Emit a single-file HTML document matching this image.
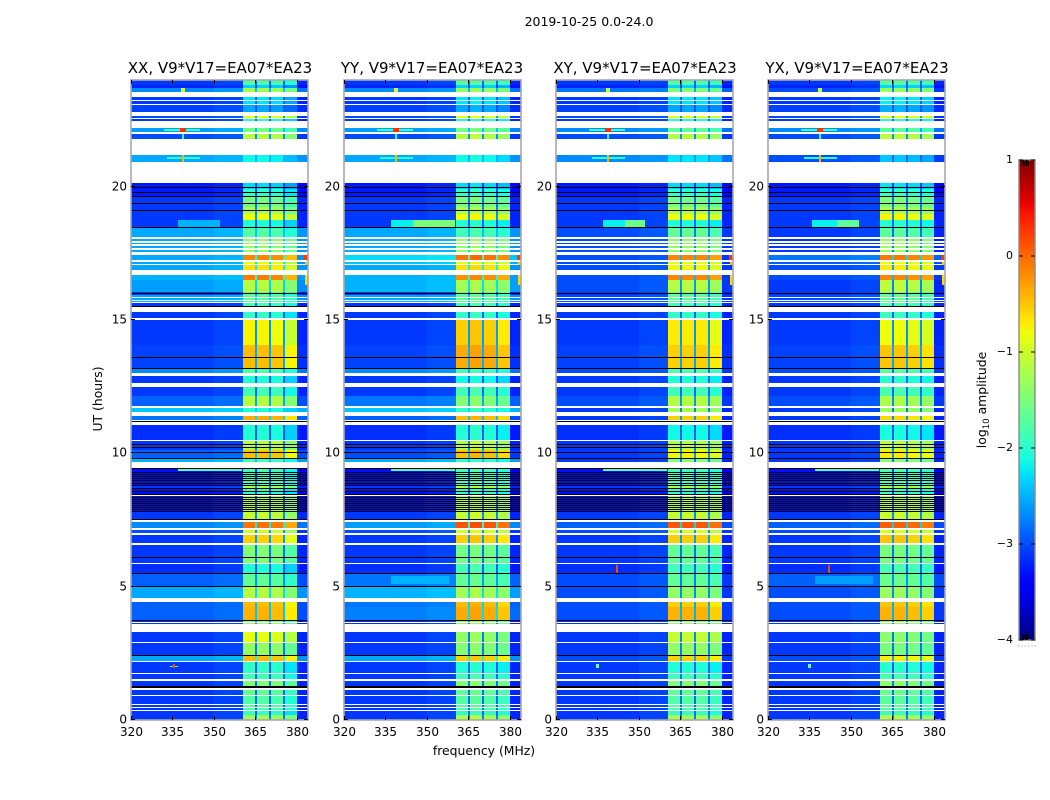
<!DOCTYPE html>
<html lang="en">
<head>
<meta charset="utf-8">
<title>2019-10-25 0.0-24.0</title>
<style>
html,body{margin:0;padding:0;background:#fff;width:1050px;height:800px;overflow:hidden}
svg{display:block}
text{font-family:"DejaVu Sans","Liberation Sans",sans-serif;fill:#000}
</style>
</head>
<body>
<svg id="figure" xmlns="http://www.w3.org/2000/svg" width="1050" height="800" viewBox="0 0 1050 800">
  <rect x="0" y="0" width="1050" height="800" fill="#fff"/>
  <text x="589" y="26" text-anchor="middle" font-size="12.5">2019-10-25 0.0-24.0</text>
  <text x="220" y="73" text-anchor="middle" font-size="15">XX, V9*V17=EA07*EA23</text>
  <text x="432" y="73" text-anchor="middle" font-size="15">YY, V9*V17=EA07*EA23</text>
  <text x="645" y="73" text-anchor="middle" font-size="15">XY, V9*V17=EA07*EA23</text>
  <text x="857" y="73" text-anchor="middle" font-size="15">YX, V9*V17=EA07*EA23</text>
  <text x="484" y="755" text-anchor="middle" font-size="12.4">frequency (MHz)</text>
  <text transform="translate(102,399) rotate(-90)" text-anchor="middle" font-size="12.4">UT (hours)</text>
  <text transform="translate(986,400) rotate(-90)" text-anchor="middle" font-size="12.4">log<tspan dy="3" font-size="8.6">10</tspan><tspan dy="-3"> amplitude</tspan></text>
  <defs>
    <linearGradient id="jetGradient" x1="0" y1="1" x2="0" y2="0"></linearGradient>
  </defs>
  <g id="panels"></g>
  <g id="colorbar"></g>
</svg>
<script>
// ---------- data: frequency bins, MHz ----------
const freqEdges = [320, 350, 360.4, 364.8, 365.5, 369.8, 370.5, 375, 375.6, 380, 384];

// ---------- data: time rows, UT hours (anything not listed stays blank) ----------
const rowTop = [
  24.00,23.81,23.70,23.36,23.21,23.06,22.65,22.54,22.20,21.98,
  21.19,20.14,19.91,19.61,19.24,18.98,18.75,18.45,18.04,17.89,
  17.78,17.63,17.44,17.18,17.06,16.69,16.50,16.05,15.94,15.83,
  15.71,15.64,15.30,15.00,14.06,13.20,12.90,12.49,12.15,11.70,
  11.40,11.06,10.46,10.13,9.83,9.45,8.81,8.70,8.40,7.80,
  7.43,7.13,6.94,6.56,5.85,5.51,5.03,4.43,4.24,3.75,
  3.64,3.30,2.89,2.44,2.18,1.73,1.46,1.13,0.90,0.56,
  0.45,0.34,0.19];
const rowBottom = [
  23.81,23.70,23.55,23.25,23.10,22.80,22.58,22.46,22.05,21.79,
  20.93,19.91,19.61,19.24,18.98,18.75,18.45,18.11,17.96,17.85,
  17.70,17.55,17.25,17.10,16.88,16.50,16.05,15.94,15.86,15.75,
  15.68,15.53,15.08,14.06,13.20,13.01,12.64,12.15,11.78,11.55,
  11.25,10.50,10.13,9.83,9.68,8.81,8.70,8.44,7.80,7.50,
  7.20,7.01,6.64,5.89,5.51,5.03,4.58,4.24,3.75,3.68,
  3.60,2.93,2.44,2.21,1.76,1.54,1.28,0.94,0.60,0.49,
  0.38,0.19,0.00];

// ---------- data: log10 amplitude, off-band level per row ----------
const xxLeft = [
  -3.1,-3.2,-2.7,-3.1,-3.1,-3.05,-3,-3.1,-2.6,-3,
  -2.55,-3.25,-3.25,-3.1,-3.1,-3.1,-3.1,-2.55,-2.55,-2.55,
  -2.55,-2.55,-2.55,-2.55,-2.55,-2.5,-2.6,-3.1,-2.55,-2.55,
  -2.55,-3.1,-3.1,-3.1,-3.05,-2.7,-3.1,-3.1,-2.9,-2.4,
  -2.8,-3.15,-3.1,-2.9,-2.5,-3.3,-3.1,-3.3,-3.3,-3.1,
  -2.7,-3,-3.1,-3.1,-3.15,-2.9,-2.55,-2.9,-2.9,-3.1,
  -3.1,-3.1,-3.1,-2.55,-3.1,-3.1,-3.1,-3.1,-3.1,-3.1,
  -3.1,-3.1,-3.1];
const yyLeft = [
  -3.1,-3.2,-2.7,-3.1,-3.1,-3.05,-3,-3.1,-2.6,-3,
  -2.55,-3.25,-3.25,-3.1,-3.1,-3.1,-3.1,-2.55,-2.55,-2.55,
  -2.55,-2.55,-2.3,-2.4,-2.55,-2.5,-2.5,-3.1,-2.55,-2.55,
  -2.55,-3.1,-3.1,-3.1,-3.05,-2.7,-3.1,-3.1,-2.8,-2.4,
  -2.9,-3.15,-3.1,-3,-2.5,-3.3,-3.1,-3.3,-3.3,-3.1,
  -2.6,-3,-3.1,-3.1,-3.15,-2.8,-2.5,-2.8,-2.75,-3.1,
  -3.1,-3.1,-3.1,-2.55,-3.1,-3.1,-3.1,-3.1,-3.1,-3.1,
  -3.1,-3.1,-3.1];
const xyLeft = [
  -3.1,-3.2,-2.8,-3.1,-3.1,-3.05,-3,-3.1,-2.7,-3,
  -2.7,-3.25,-3.25,-3.1,-3.1,-3.1,-3.1,-3,-3,-3,
  -3,-3,-3,-3,-3,-3,-3,-3.1,-3,-3,
  -3,-3.1,-3.1,-3.1,-3.05,-3,-3.1,-3.1,-3,-3.1,
  -3.1,-3.15,-3.1,-3.1,-3.1,-3.3,-3.1,-3.3,-3.3,-3.1,
  -2.9,-3,-3.1,-3.1,-3.15,-3,-3,-3,-3,-3.1,
  -3.1,-3.1,-3.1,-3,-3.1,-3.1,-3.1,-3.1,-3.1,-3.1,
  -3.1,-3.1,-3.1];
const yxLeft = [
  -3.1,-3.2,-3,-3.1,-3.1,-3.05,-3,-3.1,-2.7,-3,
  -3,-3.25,-3.25,-3.1,-3.1,-3.1,-3.1,-3.1,-3.1,-3.1,
  -3.1,-3.1,-2.8,-2.9,-3,-3,-3.1,-3.1,-3,-3,
  -3,-3.1,-3.1,-3.1,-3.05,-3,-3.1,-3.1,-3,-3.1,
  -3.1,-3.15,-3.1,-3.1,-3.1,-3.3,-3.1,-3.3,-3.3,-3.1,
  -2.9,-3,-3.1,-3.1,-3.15,-2.9,-3,-3,-3,-3.1,
  -3.1,-3.1,-3.1,-3,-3.1,-3.1,-3.1,-3.1,-3.1,-3.1,
  -3.1,-3.1,-3.1];

// ---------- data: log10 amplitude, in-band level per row ----------
const xxBand = [
  -1.8,-2.4,-1.3,-2.3,-2.3,-2.6,-0.9,-2.1,-1.6,-1.2,
  -2.2,-2.35,-2,-1.6,-1.25,-0.85,-2.1,-1.8,-1.4,-1.4,
  -1.4,-1.4,-0.2,-0.9,-0.7,-0.15,-1.2,-1.8,-1.7,-1.7,
  -1.7,-1.9,-2,-0.8,-0.5,-1.8,-2.1,-1.9,-1.2,-2.1,
  -0.4,-2.1,-1.2,-0.5,-1.9,-1.9,-1.2,-2,-1.3,-1.1,
  -0.1,-1,-0.6,-1.5,-2.1,-1.7,-1.2,-0.5,-0.45,-1.4,
  -1.4,-0.9,-1.4,-0.5,-2,-1.9,-1.5,-1.7,-1.8,-1.8,
  -1.8,-2,-1.3];
const yyBand = [
  -1.8,-2.4,-1.4,-2.3,-2.3,-2.6,-0.9,-2.1,-1.6,-1.2,
  -2.2,-2.35,-2,-1.6,-1.25,-0.85,-2.1,-1.9,-1.4,-1.4,
  -1.4,-1.4,-0.1,-0.9,-0.7,-0.25,-1.3,-1.8,-1.7,-1.7,
  -1.7,-1.9,-2,-0.6,-0.4,-1.9,-2.2,-1.9,-1.5,-2,
  -0.5,-2.1,-1.2,-0.5,-2,-1.9,-1.2,-2,-1.3,-1.1,
  0.05,-1,-0.6,-1.6,-1.9,-1.7,-1.3,-0.5,-0.4,-1.4,
  -1.4,-1.4,-1.5,-0.6,-2.1,-1.9,-1.5,-1.7,-1.8,-1.8,
  -1.8,-2,-1.3];
const xyBand = [
  -1.8,-2.4,-1.5,-2.3,-2.3,-2.6,-0.9,-2.1,-1.7,-1.2,
  -2.3,-2.35,-2,-1.6,-1.25,-0.85,-2.1,-1.7,-1.4,-1.4,
  -1.4,-1.4,-0.2,-0.9,-0.8,-0.2,-1.2,-1.8,-1.7,-1.7,
  -1.7,-1.9,-2,-0.75,-0.6,-1.8,-2.1,-1.9,-1.2,-1.3,
  -0.6,-2.2,-1.2,-0.8,-1.5,-1.9,-1.2,-2,-1.3,-1.1,
  0.05,-1,-0.6,-1.7,-1.9,-1.7,-1.4,-0.6,-0.45,-1.4,
  -1.4,-1.1,-1.4,-0.6,-2.1,-1.9,-1.5,-1.7,-1.8,-1.8,
  -1.8,-2,-1.3];
const yxBand = [
  -1.8,-2.4,-1.4,-2.3,-2.3,-2.6,-0.9,-2.1,-1.8,-1.2,
  -2.5,-2.35,-2,-1.6,-1.25,-0.85,-2.1,-1.8,-1.4,-1.4,
  -1.4,-1.4,-0.2,-0.9,-0.8,-0.25,-1.2,-1.8,-1.7,-1.7,
  -1.7,-1.9,-2,-0.9,-0.6,-1.8,-2.1,-1.9,-1.3,-1.4,
  -0.7,-2.2,-1.2,-0.8,-1.5,-1.9,-1.2,-2,-1.3,-1.1,
  -0.05,-1,-0.6,-1.6,-1.9,-1.7,-1.4,-0.6,-0.5,-1.4,
  -1.4,-1.5,-1.6,-0.8,-2.1,-1.9,-1.5,-1.7,-1.8,-1.8,
  -1.8,-2,-1.3];

// ---------- data: per-sub-band offset (four sub-bands) ----------
const xxChannelOffset = [0.05, 0.05, 0, -0.25];
const yyChannelOffset = [0.05, 0.1, 0.05, -0.1];
const xyChannelOffset = [0.05, 0.05, 0.05, -0.1];
const yxChannelOffset = [0.1, 0.1, 0.05, -0.05];

// ---------- data: localized features [hourTop, hourBottom, freqStart, freqEnd, log10Amp] ----------
const sharedFeatures = [
  [22.16,22.09,332,345,-1.9],[22.20,22.05,337.8,339.8,0.3],
  [23.70,23.55,338.2,339.4,-1],[21.98,21.79,338.3,339.3,-2],
  [21.10,21.02,333,345,-2],[21.19,20.93,338.3,339.3,-0.4],
  [9.45,9.33,337,360,-1.7],
  [17.44,17.25,382.5,384,0.25],[16.69,16.3,382.8,384,-0.6],[17.18,17.06,382.8,384,-0.5]
];
const xxFeatures = [
  [2.04,1.98,334,337,-1.9],[2.10,1.95,335.2,335.9,0.2],[18.75,18.49,337,352,-2.5]
];
const yyFeatures = [
  [18.75,18.49,337,345,-2.2],[18.75,18.49,345,360,-1.5],[5.40,5.10,337,358,-2.5]
];
const xyFeatures = [
  [18.75,18.49,337,345,-2.2],[18.75,18.49,345,352,-1.6],[5.80,5.50,341.6,342.4,0.2],[2.10,1.95,334.5,335.5,-1.6]
];
const yxFeatures = [
  [18.75,18.49,336,345,-2.2],[18.75,18.49,345,353,-1.7],[5.40,5.10,337,358,-2.6],[5.80,5.50,341.6,342.4,0.2],[2.10,1.95,334.5,335.5,-1.6]
];

// ---------- data: flagged black scan lines, UT hours ----------
const blackLineHours = [
  19.99,19.81,19.66,19.39,19.13,18.49,16.03,15.51,13.61,13.2,
  11.23,10.35,10.24,10.05,9.83,9.45,9.3,9.23,9.15,9.08,
  9,8.89,8.81,8.7,8.59,8.48,8.36,8.29,8.21,8.14,
  8.06,7.99,7.91,7.84,7.52,6.11,5.51,5.03,3.75,2.44,
  1.26,1.22];

// ---------- data: tick labels ----------
const freqTicks = [320, 335, 350, 365, 380];
const hourTicks = [0, 5, 10, 15, 20];
const colorTicks = [1, 0, -1, -2, -3, -4];
const colorMinorTop = [0.97, 0.94, 0.91, 0.88, 0.85];
const colorMinorBottom = [-3.97, -3.94, -3.91, -3.88, -3.85];

// ---------- layout ----------
const NS = 'http://www.w3.org/2000/svg';
const panelLeft = [131, 344, 556, 768];
const panelWidth = 177;
const plotTop = 80, plotBottom = 720;
const panelNames = ['xx', 'yy', 'xy', 'yx'];
const panelLefts = [xxLeft, yyLeft, xyLeft, yxLeft];
const panelBands = [xxBand, yyBand, xyBand, yxBand];
const panelOffsets = [xxChannelOffset, yyChannelOffset, xyChannelOffset, yxChannelOffset];
const panelFeatures = [xxFeatures, yyFeatures, xyFeatures, yxFeatures];
const cbarX = 1019, cbarWidth = 16, cbarTop = 160, cbarBottom = 640;
const ampMin = -4, ampMax = 1;

function hourY(h) { return plotBottom - h * (plotBottom - plotTop) / 24; }
function freqX(f, x0) { return x0 + (f - 320) * panelWidth / 64; }
function ampY(v) { return cbarBottom - (v - ampMin) * (cbarBottom - cbarTop) / (ampMax - ampMin); }

function segment(t, pts) {
  for (let i = 1; i < pts.length; i++) {
    if (t <= pts[i][0]) {
      const a = pts[i - 1], b = pts[i];
      return a[1] + (b[1] - a[1]) * (t - a[0]) / (b[0] - a[0]);
    }
  }
  return pts[pts.length - 1][1];
}
const jetR = [[0,0],[0.35,0],[0.66,1],[0.89,1],[1,0.5]];
const jetG = [[0,0],[0.125,0],[0.375,1],[0.64,1],[0.91,0],[1,0]];
const jetB = [[0,0.5],[0.11,1],[0.34,1],[0.65,0],[1,0]];
function jetNorm(t) {
  t = Math.max(0, Math.min(1, t));
  return 'rgb(' + Math.round(255 * segment(t, jetR)) + ',' + Math.round(255 * segment(t, jetG)) + ',' + Math.round(255 * segment(t, jetB)) + ')';
}
function jet(v) { return jetNorm((v - ampMin) / (ampMax - ampMin)); }

function make(tag, attrs, parent) {
  const el = document.createElementNS(NS, tag);
  for (const k in attrs) el.setAttribute(k, attrs[k]);
  parent.appendChild(el);
  return el;
}

function binValue(bin, left, band, offs) {
  switch (bin) {
    case 0: return left;
    case 1: return left + 0.06;
    case 2: return band + offs[0];
    case 4: return band + offs[1];
    case 6: return band + offs[2];
    case 8: return band + offs[3];
    case 9: return left - 0.1;
    default: return left + 0.2 * (band - left);
  }
}

const panelsRoot = document.getElementById('panels');

panelNames.forEach(function (name, p) {
  const x0 = panelLeft[p];
  const panel = make('g', {}, panelsRoot);
  
  

  const bg = make('rect', { x: x0, y: plotTop, width: panelWidth, height: plotBottom - plotTop, fill: '#fff' }, panel);
  
  

  const left = panelLefts[p], band = panelBands[p], offs = panelOffsets[p];
  rowTop.forEach(function (top, r) {
    const y0 = Math.round(hourY(top));
    const y1 = Math.round(hourY(rowBottom[r]));
    for (let b = 0; b < freqEdges.length - 1; b++) {
      const xa = Math.round(freqX(freqEdges[b], x0));
      const xb = Math.round(freqX(freqEdges[b + 1], x0));
      const cell = make('rect', {
        x: xa, y: y0, width: xb - xa, height: y1 - y0,
        fill: jet(binValue(b, left[r], band[r], offs)),
        'shape-rendering': 'crispEdges'
      }, panel);
      
      
    }
  });

  sharedFeatures.concat(panelFeatures[p]).forEach(function (f) {
    const xa = Math.round(freqX(f[2], x0));
    const xb = Math.round(freqX(f[3], x0));
    const y0 = Math.round(hourY(f[0]));
    const y1 = Math.round(hourY(f[1]));
    const spot = make('rect', {
      x: xa, y: y0, width: Math.max(1, xb - xa), height: Math.max(1, y1 - y0),
      fill: jet(f[4]), 'shape-rendering': 'crispEdges'
    }, panel);
    
    
  });

  blackLineHours.forEach(function (h) {
    const line = make('rect', {
      x: x0, y: Math.round(hourY(h)), width: panelWidth, height: 1,
      fill: '#000', 'shape-rendering': 'crispEdges'
    }, panel);
    
    
  });

  const frame = make('rect', {
    x: x0, y: plotTop, width: panelWidth, height: plotBottom - plotTop,
    fill: 'none', stroke: '#a8a8a8', 'stroke-width': 1.6
  }, panel);
  
  

  freqTicks.forEach(function (f) {
    const x = Math.round(freqX(f, x0)) + 0.5;
    const tickBottom = make('line', { x1: x, x2: x, y1: plotBottom, y2: plotBottom - 4, stroke: '#000', 'stroke-width': 1 }, panel);
    
    
    const tickTop = make('line', { x1: x, x2: x, y1: plotTop, y2: plotTop + 4, stroke: '#000', 'stroke-width': 1 }, panel);
    
    
    const label = make('text', { x: x, y: 736, 'text-anchor': 'middle', 'font-size': 12 }, panel);
    
    
    label.textContent = String(f);
  });

  hourTicks.forEach(function (h) {
    const y = Math.round(hourY(h)) - 0.5;
    const tickLeft = make('line', { x1: x0, x2: x0 + 4, y1: y, y2: y, stroke: '#000', 'stroke-width': 1 }, panel);
    
    
    const tickRight = make('line', { x1: x0 + panelWidth, x2: x0 + panelWidth - 4, y1: y, y2: y, stroke: '#000', 'stroke-width': 1 }, panel);
    
    
    const label = make('text', { x: x0 - 4, y: y + 4, 'text-anchor': 'end', 'font-size': 12 }, panel);
    
    
    label.textContent = String(h);
  });
});

// ---------- colorbar ----------
const cbarRoot = document.getElementById('colorbar');



const grad = document.getElementById('jetGradient');
for (let i = 0; i <= 50; i++) {
  make('stop', { offset: (i * 2) + '%', 'stop-color': jetNorm(i / 50) }, grad);
}
const cbarRect = make('rect', { x: cbarX, y: cbarTop, width: cbarWidth, height: cbarBottom - cbarTop, fill: 'url(#jetGradient)' }, cbarRoot);


const cbarFrame = make('rect', { x: cbarX, y: cbarTop, width: cbarWidth, height: cbarBottom - cbarTop, fill: 'none', stroke: '#8a8a8a', 'stroke-width': 1.4 }, cbarRoot);



colorTicks.forEach(function (v) {
  const y = Math.round(ampY(v));
  const t1 = make('line', { x1: cbarX, x2: cbarX + 4, y1: y, y2: y, stroke: '#000', 'stroke-width': 1 }, cbarRoot);
  
  
  const t2 = make('line', { x1: cbarX + cbarWidth, x2: cbarX + cbarWidth - 4, y1: y, y2: y, stroke: '#000', 'stroke-width': 1 }, cbarRoot);
  
  
  const label = make('text', { x: cbarX - 6, y: y + 3, 'text-anchor': 'end', 'font-size': 11 }, cbarRoot);
  
  
  label.textContent = v < 0 ? '\u2212' + Math.abs(v) : String(v);
});

colorMinorTop.concat(colorMinorBottom).forEach(function (v) {
  const inTop = v > 0;
  const offset = inTop ? (0.97 - v) : (v + 3.97);
  const x = cbarX + 3 + offset * 50;
  const len = 6;
  const y1 = inTop ? cbarTop : cbarBottom;
  const y2 = inTop ? cbarTop + len : cbarBottom - len;
  const minor = make('line', { x1: x, x2: x, y1: y1, y2: y2, stroke: '#000', 'stroke-width': 1 }, cbarRoot);
  
  
});

const dots = make('line', { x1: 1018, x2: 1036, y1: 646, y2: 646, stroke: '#999', 'stroke-width': 1, 'stroke-dasharray': '1 2.4' }, cbarRoot);


</script>
</body>
</html>
